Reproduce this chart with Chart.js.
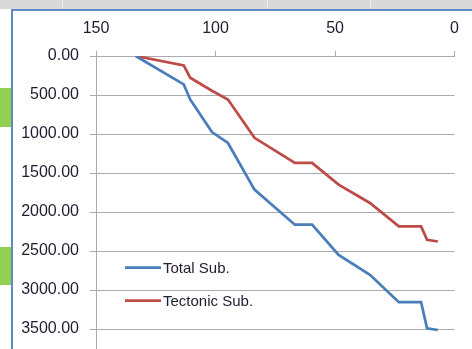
<!DOCTYPE html>
<html>
<head>
<meta charset="utf-8">
<script src="https://cdn.jsdelivr.net/npm/chart.js@4.4.1/dist/chart.umd.min.js"></script>
<style>
  html, body { margin: 0; padding: 0; background: #ffffff; overflow: hidden; width: 472px; height: 349px; }
  .sheet-band { position: absolute; left: 0; top: 0; width: 472px; height: 9px; background: #d9d9d9; }
  .sheet-sep { position: absolute; top: 0; width: 1px; height: 9px; background: #ececec; }
  .frame-top { position: absolute; left: 11px; top: 9px; width: 461px; height: 2px; background: #5d8ac6; }
  .frame-left { position: absolute; left: 11px; top: 9px; width: 2px; height: 340px; background: #5d8ac6; }
  .cell-green { position: absolute; left: 0; width: 11px; background: #92d050; }
  #chart { position: absolute; left: 0; top: 0; }
</style>
</head>
<body>
<div class="sheet-band"></div>
<div class="sheet-sep" style="left:62px"></div>
<div class="sheet-sep" style="left:267px"></div>
<div class="sheet-sep" style="left:370px"></div>
<div class="frame-top"></div>
<div class="frame-left"></div>
<div class="cell-green" style="top:88px;height:39px"></div>
<div class="cell-green" style="top:247px;height:38px"></div>
<canvas id="chart" width="472" height="390"></canvas>
<script>
// Age (Ma) of each horizon and the burial / tectonic subsidence (m) at that age
const ages        = [133.4, 113.3, 110.6, 101.5, 94.8, 83.7, 66.8, 59.6, 48.5, 35.4, 23.3, 14.0, 11.5, 7.0];
const totalSub    = [0,     364,   557,   975,   1115, 1713, 2163, 2163, 2549, 2806, 3157, 3157, 3491, 3513];
const tectonicSub = [0,     120,   278,   445,   557,  1049, 1370, 1370, 1649, 1884, 2185, 2185, 2356, 2378];

const seriesNames  = ['Total Sub.', 'Tectonic Sub.'];
const seriesColors = ['#4a7ebb', '#be4b48'];
const ageTicks     = [150, 100, 50, 0];

const toPoints = vals => ages.map((a, i) => ({ x: a, y: vals[i] }));

const FONT = "'Liberation Sans', Arial, sans-serif";
const TEXT = '#1e1e30';
const GRID = '#ababab';

// Legend drawn inside the plot, lower left
const insideLegend = {
  id: 'insideLegend',
  afterDatasetsDraw(chart) {
    const ctx = chart.ctx;
    const rows = [267.5, 300.5];
    ctx.save();
    ctx.font = '15px ' + FONT;
    ctx.textBaseline = 'middle';
    chart.data.datasets.forEach((ds, i) => {
      const y = rows[i];
      ctx.strokeStyle = ds.borderColor;
      ctx.lineWidth = 2.75;
      ctx.beginPath();
      ctx.moveTo(125, y);
      ctx.lineTo(161, y);
      ctx.stroke();
      ctx.fillStyle = TEXT;
      ctx.fillText(ds.label, 163, y + 1);
    });
    ctx.restore();
  }
};

new Chart(document.getElementById('chart'), {
  type: 'scatter',
  data: {
    datasets: [
      { label: seriesNames[0], data: toPoints(totalSub), borderColor: seriesColors[0], backgroundColor: seriesColors[0] },
      { label: seriesNames[1], data: toPoints(tectonicSub), borderColor: seriesColors[1], backgroundColor: seriesColors[1] }
    ].map(d => Object.assign(d, { showLine: true, borderWidth: 2.75, pointRadius: 0, pointHoverRadius: 0, tension: 0, fill: false }))
  },
  options: {
    responsive: false,
    devicePixelRatio: 1,
    animation: false,
    layout: { padding: { left: 0, top: 0, right: 13, bottom: 22 } },
    plugins: { legend: { display: false }, tooltip: { enabled: false } },
    scales: {
      x: {
        type: 'linear',
        position: 'top',
        reverse: true,
        min: 0,
        max: 150,
        afterBuildTicks: s => { s.ticks = ageTicks.map(v => ({ value: v })); },
        afterFit: s => { s.height = 56; },
        grid: { drawOnChartArea: false, drawTicks: true, tickLength: 5, color: GRID },
        border: { display: true, color: GRID, width: 1 },
        ticks: { color: TEXT, font: { family: FONT, size: 16 }, padding: 13, maxRotation: 0 }
      },
      y: {
        type: 'linear',
        reverse: true,
        min: 0,
        max: 4000,
        afterFit: s => { s.width = 96; },
        grid: { color: GRID, tickLength: 6, drawTicks: true },
        border: { display: true, color: GRID, width: 1 },
        ticks: { stepSize: 500, color: TEXT, font: { family: FONT, size: 16 }, padding: 11, callback: v => v.toFixed(2) }
      }
    }
  },
  plugins: [insideLegend]
});
</script>
</body>
</html>
